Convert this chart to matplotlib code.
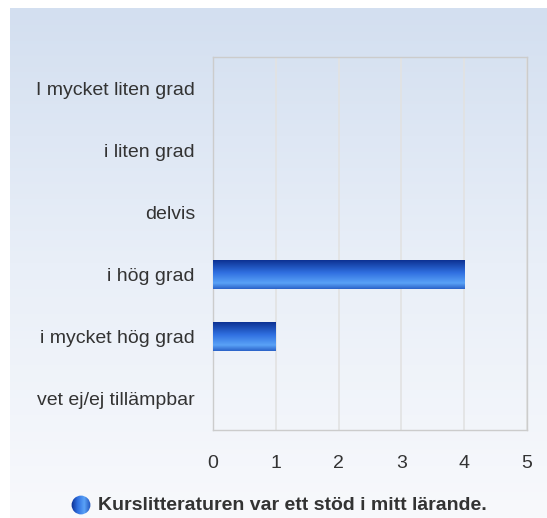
import numpy as np
import matplotlib.pyplot as plt
from matplotlib.colors import LinearSegmentedColormap
from matplotlib.patches import Circle

plt.rcParams['font.family'] = ['Liberation Sans', 'DejaVu Sans']

kategorier = ["I mycket liten grad", "i liten grad", "delvis", "i hög grad",
              "i mycket hög grad", "vet ej/ej tillämpbar"]
antal = [0, 0, 0, 4, 1, 0]
xticks = [0, 1, 2, 3, 4, 5]
serie = "Kurslitteraturen var ett stöd i mitt lärande."

W, H = 547, 518
fig = plt.figure(figsize=(W / 100, H / 100), dpi=100)

# bakgrund med gradient
bg = fig.add_axes([10 / W, 0, 1 - 10 / W, 510 / H])
bg_cmap = LinearSegmentedColormap.from_list("bg", ["#d3dff0", "#e9eff8", "#f8f9fc"])
bg.imshow(np.linspace(0, 1, 256).reshape(-1, 1), cmap=bg_cmap, aspect="auto",
          extent=[0, 1, 0, 1], origin="upper")
bg.set_axis_off()

ax = fig.add_axes([213 / W, 1 - 430 / H, (527 - 213) / W, (430 - 57) / H])
ax.patch.set_alpha(0)

y = np.arange(len(kategorier))
bars = ax.barh(y, antal, height=0.47, color="none", edgecolor="none", zorder=3)

bar_cmap = LinearSegmentedColormap.from_list(
    "bar", [(0, "#0a2c8c"), (0.45, "#2f6fe0"), (0.8, "#5aa2f7"), (1, "#2a62c8")])
grad = np.linspace(0, 1, 256).reshape(-1, 1)
for b in bars:
    if b.get_width() <= 0:
        continue
    x0, y0 = b.get_x(), b.get_y()
    # y-axeln är inverterad: rad 0 i bilden hamnar överst
    im = ax.imshow(grad, cmap=bar_cmap, aspect="auto", origin="upper",
                   extent=[x0, x0 + b.get_width(), y0 + b.get_height(), y0], zorder=3)
    im.set_clip_path(b)

ax.set_xlim(0, 5)
ax.set_ylim(len(kategorier) - 0.5, -0.5)
ax.set_aspect("auto")
ax.set_xticks(xticks)
ax.set_yticks(y)
ax.set_yticklabels(kategorier)
ax.tick_params(axis="y", length=0, pad=13, labelsize=14, labelcolor="#333333")
ax.tick_params(axis="x", length=0, pad=18, labelsize=14, labelcolor="#333333")
ax.grid(axis="x", color="#e2e2e2", linewidth=1.2, zorder=0)
for s in ax.spines.values():
    s.set_color("#cccccc")
    s.set_linewidth(1)
ax.set_axisbelow(True)

# legend
lax = fig.add_axes([71 / W, 1 - 515 / H, 20 / W, 20 / H])
lax.set_xlim(0, 1)
lax.set_ylim(0, 1)
lax.set_axis_off()
circ = Circle((0.5, 0.5), 0.47, transform=lax.transData, facecolor="none", edgecolor="none")
lax.add_patch(circ)
leg_cmap = LinearSegmentedColormap.from_list("leg", ["#0a2c8c", "#2f6fe0", "#5aa2f7", "#1f4fb8"])
lim = lax.imshow(np.linspace(0, 1, 256).reshape(1, -1), cmap=leg_cmap, aspect="auto",
                 extent=[0, 1, 0, 1])
lim.set_clip_path(circ)
fig.text(98 / W, 1 - 505 / H, serie, fontsize=14, fontweight="bold",
         color="#333333", va="center", ha="left")

fig.savefig("out.png", dpi=100)
